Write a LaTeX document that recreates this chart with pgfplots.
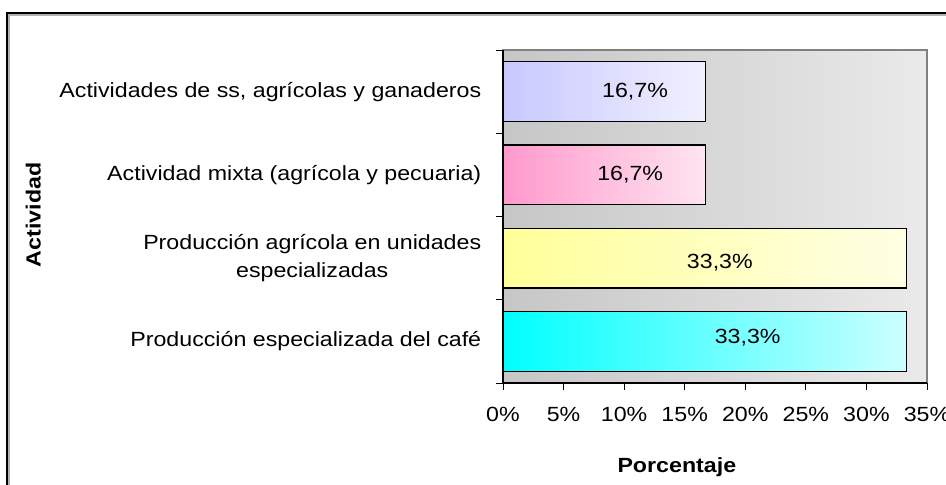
\documentclass[border=0pt]{standalone}
\usepackage{fontspec}
\setmainfont{Liberation Sans}[FakeStretch=1.13]
\usepackage{pgfplots}
\pgfplotsset{compat=1.18}
\definecolor{bgL}{HTML}{C6C6C6}
\definecolor{bgR}{HTML}{EAEAEA}
\definecolor{lavL}{HTML}{C8C8FF}
\definecolor{lavR}{HTML}{F0F0FF}
\definecolor{pinkL}{HTML}{FF99CC}
\definecolor{pinkR}{HTML}{FFE4F0}
\definecolor{yelL}{HTML}{FFFF99}
\definecolor{yelR}{HTML}{FFFFE4}
\definecolor{cyaL}{HTML}{00FFFF}
\definecolor{cyaR}{HTML}{CCFFFF}
\begin{document}
\begin{tikzpicture}
\begin{scope}[x=0.75pt,y=0.75pt]
\clip (0,0) rectangle (946,485);
\draw[gray!60, line width=3pt] (8,-30) -- (8,471) -- (980,471);
\draw[black, line width=1.2pt] (7,-30) -- (7,472) -- (980,472);
\end{scope}
\fontsize{15.4}{18}\selectfont
\begin{axis}[
  at={(377.25pt,76.5pt)}, anchor=south west,
  scale only axis, width=318pt, height=249.75pt,
  xbar, bar width=0.72, bar shift=0pt,
  xmin=0, xmax=35, ymin=0.5, ymax=4.5,
  axis x line*=bottom, axis y line*=left,
  axis line style={black, line width=0.8pt},
  axis background/.style={left color=bgL, right color=bgR, draw=gray, line width=1pt},
  tick align=outside, major tick length=5pt,
  tick style={black, line width=0.6pt},
  xtick={0,5,...,35},
  xticklabel={\pgfmathprintnumber{\tick}\%},
  /pgf/number format/assume math mode=true,
  ytick={1,2,3,4},
  yticklabels={Producción especializada del café,{Producción agrícola en unidades\\especializadas},Actividad mixta (agrícola y pecuaria),{Actividades de ss, agrícolas y ganaderos}},
  y tick style={draw=none},
  extra y ticks={0.5,1.5,2.5,3.5,4.5},
  extra y tick labels={},
  extra y tick style={y tick style={draw=black}},
  yticklabel style={align=center, xshift=-6pt},
  xticklabel style={yshift=-8pt},
  ticklabel style={font=\fontsize{15.4}{21}\selectfont},
  xlabel={\textbf{Porcentaje}},
  xlabel style={at={(axis description cs:0.41,-0.252)}, anchor=center, font=\fontsize{15.4}{18}\selectfont},
  ylabel={\textbf{Actividad}},
  ylabel style={at={(axis description cs:-1.108,0.505)}, anchor=center, rotate=0, font=\fontsize{15.4}{18}\selectfont},
  clip=false,
]
\addplot[draw=black, line width=0.9pt, left color=cyaL, right color=cyaR] coordinates {(33.3,1)};
\addplot[draw=black, line width=0.9pt, left color=yelL, right color=yelR] coordinates {(33.3,2)};
\addplot[draw=black, line width=0.9pt, left color=pinkL, right color=pinkR] coordinates {(16.7,3)};
\addplot[draw=black, line width=0.9pt, left color=lavL, right color=lavR] coordinates {(16.7,4)};
\node at (axis cs:10.9,4) {16,7\%};
\node at (axis cs:10.5,3) {16,7\%};
\node at (axis cs:17.9,1.95) {33,3\%};
\node at (axis cs:20.2,1.04) {33,3\%};
\end{axis}
\pgfresetboundingbox
\path[use as bounding box] (0pt,0pt) rectangle (709.5pt,363.75pt);
\end{tikzpicture}
\end{document}
